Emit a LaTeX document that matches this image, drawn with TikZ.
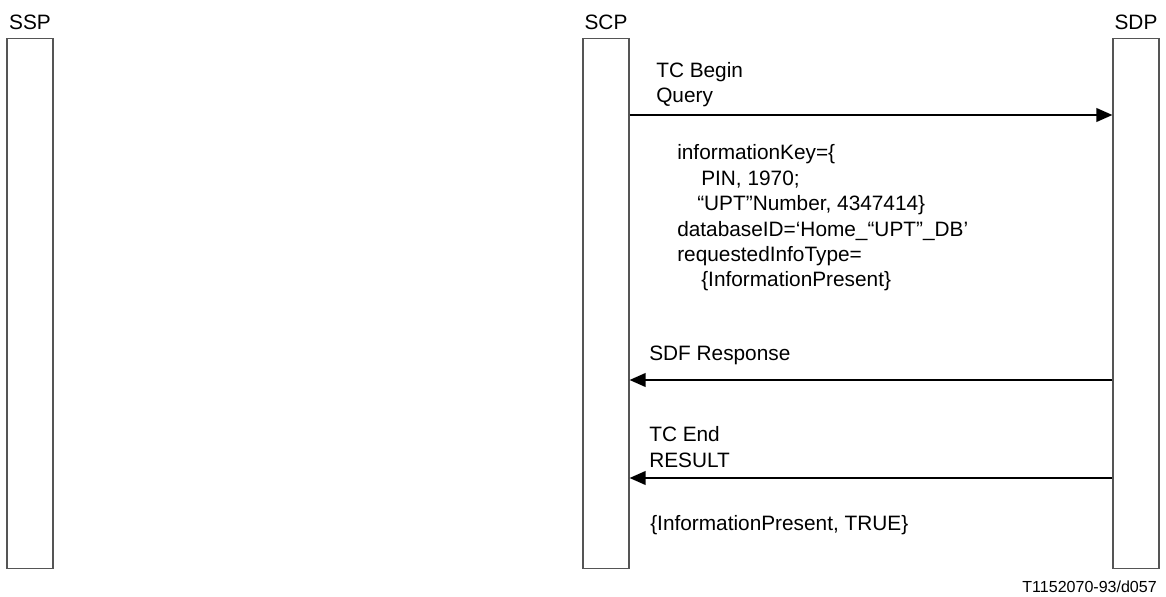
\documentclass[tikz,border=0pt]{standalone}
\usepackage{fontspec}
\setmainfont{Liberation Sans}
\usepackage{tikz}
\usetikzlibrary{calc,arrows.meta}
\usetikzlibrary{positioning}
\definecolor{sq-line}{HTML}{555555}
\definecolor{sq-text}{HTML}{000000}

\begin{document}
\begin{tikzpicture}[x=0.025cm, y=-0.025cm,
    entity/.style={draw=sq-line, line width=0.8pt, minimum width=1.15cm,
        minimum height=13.225cm, inner sep=0pt},
    lbl/.style={font=\fontsize{14.8}{18.1}\selectfont, text=sq-text, inner sep=0pt},
    msg/.style={line width=1.4pt, -{Triangle[length=0.4cm,width=0.34cm]}}]

    \useasboundingbox (0, 0) rectangle (1166, 597);

    % Entities
    \node[entity] (ssp) at (30, 303.5) {};
    \node[entity] (scp) at (606, 303.5) {};
    \node[entity] (sdp) at (1136, 303.5) {};

    \foreach \n/\t in {ssp/SSP, scp/SCP, sdp/SDP} {
        \node[lbl, anchor=base] (\n-lbl) at ([yshift=0.225cm]\n.north) {\t};
    }

    % Query: SCP -> SDP (base = last line)
    \coordinate (q) at (0, 115);
    \draw[msg] (scp.east |- q) -- (sdp.west |- q);
    \node[lbl, anchor=base west, align=left] (qtxt) at (656, 103) {TC Begin\\Query};

    \node[lbl, anchor=base west, align=left] (params) at (677, 287)
        {informationKey=\{\\
         \hspace*{0.6cm}PIN, 1970;\\
         \hspace*{0.5cm}“UPT”Number, 4347414\}\\
         databaseID=‘Home\_“UPT”\_DB’\\
         requestedInfoType=\\
         \hspace*{0.6cm}\{InformationPresent\}};

    % SDF Response: SDP -> SCP
    \coordinate (r) at (0, 380);
    \draw[msg] (sdp.west |- r) -- (scp.east |- r);
    \node[lbl, anchor=base west] (rtxt) at (649, 360) {SDF Response};

    % Result: SDP -> SCP
    \coordinate (e) at (0, 478);
    \draw[msg] (sdp.west |- e) -- (scp.east |- e);
    \node[lbl, anchor=base west, align=left] (etxt) at (649, 467) {TC End\\RESULT};
    \node[lbl, anchor=base west] (res) at (650, 530) {\{InformationPresent, TRUE\}};

    \node[lbl, font=\fontsize{11.4}{13}\selectfont, anchor=base east] (tag) at (1157, 592)
        {T1152070-93/d057};
\end{tikzpicture}
\end{document}
